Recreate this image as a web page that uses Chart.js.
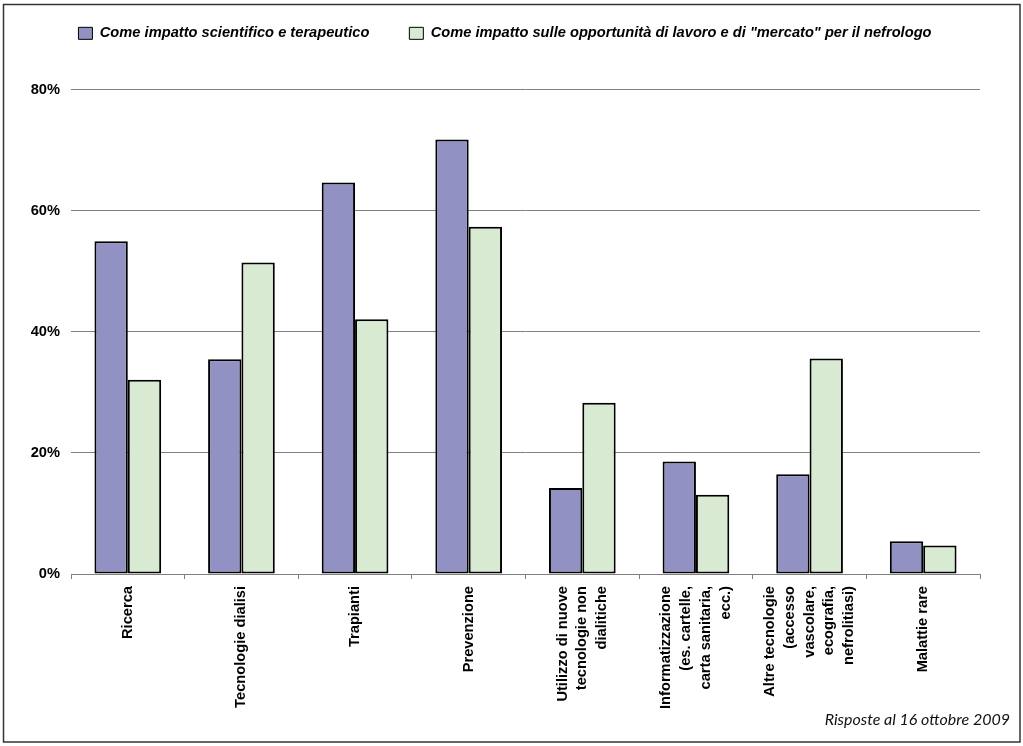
<!DOCTYPE html>
<html>
<head>
<meta charset="utf-8">
<script src="https://cdn.jsdelivr.net/npm/chart.js@4/dist/chart.umd.min.js"></script>
<style>
  html, body { margin: 0; padding: 0; background: #fff; }
  canvas { display: block; }
</style>
</head>
<body>
<canvas id="chart" width="1023" height="746"></canvas>
<script>
// Category labels (one entry per line of the rotated label)
const categories = [
  ["Ricerca"],
  ["Tecnologie dialisi"],
  ["Trapianti"],
  ["Prevenzione"],
  ["Utilizzo di nuove", "tecnologie non", "dialitiche"],
  ["Informatizzazione", "(es. cartelle,", "carta sanitaria,", "ecc.)"],
  ["Altre tecnologie", "(accesso", "vascolare,", "ecografia,", "nefrolitiasi)"],
  ["Malattie rare"]
];

const seriesNames = [
  "Come impatto scientifico e terapeutico",
  "Come impatto sulle opportunità di lavoro e di \"mercato\" per il nefrologo"
];

// Percentages of answers
const impattoScientifico = [55.0, 35.5, 64.7, 71.8, 14.2, 18.6, 16.5, 5.4];
const impattoLavoro      = [32.1, 51.5, 42.1, 57.4, 28.3, 13.1, 35.6, 4.7];

const yTicks = [0, 20, 40, 60, 80];
const footnote = "Risposte al 16 ottobre 2009";

const ARIAL = '"Liberation Sans", Arial, Helvetica, sans-serif';

// White page with a thin frame around the whole figure
const framePlugin = {
  id: 'frame',
  beforeDraw(chart) {
    const ctx = chart.ctx;
    ctx.save();
    ctx.fillStyle = '#fff';
    ctx.fillRect(0, 0, chart.width, chart.height);
    ctx.strokeStyle = '#333';
    ctx.lineWidth = 1.5;
    ctx.strokeRect(3.5, 4.5, 1016.5, 737.5);
    ctx.restore();
  }
};

// Rotated, multi-line category labels centred on each category
const categoryLabels = {
  id: 'categoryLabels',
  afterDraw(chart) {
    const xs = chart.scales.x;
    const ctx = chart.ctx;
    const lh = 19.8;
    ctx.save();
    ctx.font = 'bold 14.67px ' + ARIAL;
    ctx.fillStyle = '#000';
    ctx.textAlign = 'right';
    ctx.textBaseline = 'middle';
    categories.forEach((lines, i) => {
      const cx = xs.getPixelForTick(i);
      lines.forEach((t, j) => {
        const px = cx + (j - (lines.length - 1) / 2) * lh;
        ctx.save();
        ctx.translate(px, xs.top + 12);
        ctx.rotate(-Math.PI / 2);
        ctx.fillText(t, 0, 0);
        ctx.restore();
      });
    });
    ctx.restore();
  }
};

new Chart(document.getElementById('chart'), {
  type: 'bar',
  data: {
    labels: categories,
    datasets: [
      {
        label: seriesNames[0],
        data: impattoScientifico,
        backgroundColor: '#9191C3',
        borderColor: '#000',
        borderWidth: 2,
        borderSkipped: false
      },
      {
        label: seriesNames[1],
        data: impattoLavoro,
        backgroundColor: '#D9EAD3',
        borderColor: '#000',
        borderWidth: 2,
        borderSkipped: false
      }
    ]
  },
  options: {
    responsive: false,
    animation: false,
    events: [],
    layout: { padding: { top: -14, right: 13, left: 0, bottom: 0 } },
    datasets: { bar: { categoryPercentage: 0.587, barPercentage: 1 } },
    plugins: {
      legend: {
        position: 'top',
        weight: 1000,
        labels: {
          boxWidth: 14,
          boxHeight: 12,
          padding: 40,
          color: '#000',
          font: { family: ARIAL, size: 14.67, style: 'italic', weight: 'bold' },
          generateLabels(chart) {
            return Chart.defaults.plugins.legend.labels.generateLabels(chart)
              .map(l => Object.assign(l, { lineWidth: 1 }));
          }
        }
      },
      title: {
        display: true,
        text: ' ',
        weight: 500,
        font: { size: 10, lineHeight: 1 },
        padding: { top: 0, bottom: 29.3 }
      },
      subtitle: {
        display: true,
        text: footnote,
        position: 'bottom',
        align: 'end',
        color: '#111',
        font: { family: 'Lato, "Noto Sans", sans-serif', size: 16, style: 'italic', weight: 'normal', lineHeight: 1.125 },
        padding: { top: 0, bottom: 17 }
      },
      tooltip: { enabled: false }
    },
    scales: {
      x: {
        grid: {
          display: true,
          drawOnChartArea: false,
          drawTicks: true,
          tickLength: 5,
          color: '#808080',
          offset: true
        },
        border: { display: true, color: '#808080', width: 1 },
        ticks: { display: false },
        afterFit(s) { s.height = 137; }
      },
      y: {
        min: 0,
        max: 80,
        afterBuildTicks(s) { s.ticks = yTicks.map(v => ({ value: v })); },
        grid: { color: '#808080', drawTicks: false, lineWidth: 1 },
        border: { display: false },
        ticks: {
          padding: 11,
          color: '#000',
          font: { family: ARIAL, size: 14.67, weight: 'bold' },
          callback: v => v + '%'
        },
        afterFit(s) { s.width = 71; }
      },
      yRight: {
        position: 'right',
        display: true,
        grid: { display: false },
        border: { display: false },
        ticks: { display: false },
        afterFit(s) { s.width = 30; }
      }
    }
  },
  plugins: [framePlugin, categoryLabels]
});
</script>
</body>
</html>
